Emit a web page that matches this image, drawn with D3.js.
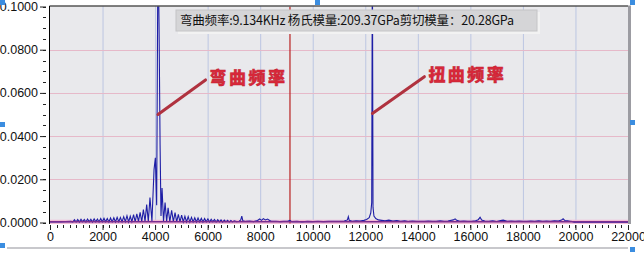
<!DOCTYPE html>
<html>
<head>
<meta charset="utf-8">
<script src="https://cdn.jsdelivr.net/npm/d3@7"></script>
<style>
  body { margin: 0; background: #fff; }
  svg { display: block; }
</style>
</head>
<body>
<div id="chart"></div>
<script>
// 频谱数据 [Hz, 幅值]
const leftLobes = [
  [0, 0.0003], [200, 0.0004], [400, 0.0003], [600, 0.0004], [800, 0.0005], [868, 0.0002],
  [930, 0.0013], [992, 0.0002], [1055, 0.0014], [1117, 0.0002], [1180, 0.0015], [1242, 0.0003],
  [1305, 0.0014], [1367, 0.0002], [1430, 0.0016], [1492, 0.0003], [1555, 0.0015], [1617, 0.0002],
  [1680, 0.0017], [1742, 0.0003], [1805, 0.0016], [1867, 0.0002], [1930, 0.0018], [1992, 0.0003],
  [2055, 0.0019], [2117, 0.0003], [2180, 0.0018], [2242, 0.0002], [2305, 0.0021], [2367, 0.0003],
  [2430, 0.0022], [2492, 0.0003], [2555, 0.0024], [2617, 0.0004], [2680, 0.0023], [2742, 0.0003],
  [2805, 0.0027], [2867, 0.0004], [2930, 0.0031], [2992, 0.0003], [3055, 0.0029], [3117, 0.0004],
  [3180, 0.0036], [3242, 0.0004], [3305, 0.0040], [3367, 0.0005], [3430, 0.0047], [3492, 0.0004],
  [3555, 0.0060], [3617, 0.0005], [3680, 0.0083], [3742, 0.0005], [3805, 0.0115], [3880, 0.0006]
];

const mainPeak = [
  [3960, 0.0245], [4010, 0.0300], [4060, 0.0080], [4110, 0.1300], [4150, 0.0920],
  [4190, 0.0360], [4225, 0.0030], [4265, 0.0160], [4320, 0.0006], [4380, 0.0092],
  [4440, 0.0005], [4495, 0.0068], [4560, 0.0004], [4630, 0.0056], [4695, 0.0004]
];

const rightLobes = [
  [4760, 0.0046], [4822, 0.0003], [4885, 0.0038], [4948, 0.0003], [5010, 0.0034], [5072, 0.0003],
  [5135, 0.0029], [5197, 0.0003], [5260, 0.0027], [5322, 0.0002], [5385, 0.0024], [5447, 0.0003],
  [5510, 0.0022], [5572, 0.0002], [5635, 0.0021], [5697, 0.0003], [5760, 0.0019], [5822, 0.0002],
  [5885, 0.0018], [5947, 0.0003], [6010, 0.0017], [6072, 0.0002], [6135, 0.0015], [6197, 0.0003],
  [6260, 0.0014], [6322, 0.0002], [6385, 0.0013], [6447, 0.0003], [6510, 0.0012], [6572, 0.0002],
  [6635, 0.0011], [6697, 0.0003], [6760, 0.0010], [6822, 0.0002], [6885, 0.0009], [6947, 0.0003],
  [7010, 0.0008]
];

const tail = [
  [7100, 0.0004], [7200, 0.0006], [7260, 0.0012], [7300, 0.0030], [7340, 0.0008], [7450, 0.0005],
  [7600, 0.0007], [7750, 0.0004], [7900, 0.0009], [7980, 0.0016], [8050, 0.0010], [8120, 0.0018],
  [8200, 0.0012], [8280, 0.0016], [8360, 0.0009], [8450, 0.0005], [8600, 0.0006], [8750, 0.0004],
  [8900, 0.0005], [9050, 0.0006], [9130, 0.0010], [9200, 0.0004], [9400, 0.0005], [9600, 0.0003],
  [9800, 0.0005], [10000, 0.0004], [10200, 0.0006], [10400, 0.0004], [10600, 0.0005], [10800, 0.0006],
  [11000, 0.0005], [11200, 0.0007], [11320, 0.0012], [11355, 0.0027], [11390, 0.0010], [11500, 0.0006],
  [11650, 0.0008], [11800, 0.0007], [11950, 0.0010], [12050, 0.0014], [12150, 0.0022], [12210, 0.0045],
  [12245, 0.0092], [12270, 0.1300], [12295, 0.0070], [12330, 0.0030], [12400, 0.0018], [12500, 0.0012],
  [12620, 0.0010], [12750, 0.0008], [12900, 0.0011], [13050, 0.0007], [13200, 0.0009], [13350, 0.0006],
  [13500, 0.0008], [13650, 0.0005], [13800, 0.0007], [13950, 0.0005], [14100, 0.0006], [14250, 0.0005],
  [14400, 0.0007], [14550, 0.0005], [14700, 0.0006], [14850, 0.0008], [15000, 0.0006], [15150, 0.0007],
  [15350, 0.0012], [15420, 0.0017], [15480, 0.0010], [15600, 0.0006], [15750, 0.0007], [15900, 0.0005],
  [16050, 0.0006], [16200, 0.0008], [16300, 0.0013], [16370, 0.0024], [16430, 0.0011], [16550, 0.0007],
  [16700, 0.0006], [16850, 0.0008], [17000, 0.0005], [17150, 0.0009], [17250, 0.0011], [17400, 0.0006],
  [17550, 0.0007], [17700, 0.0005], [17850, 0.0007], [18000, 0.0006], [18150, 0.0005], [18300, 0.0007],
  [18450, 0.0006], [18600, 0.0008], [18750, 0.0006], [18900, 0.0007], [19050, 0.0006], [19200, 0.0008],
  [19350, 0.0007], [19470, 0.0011], [19530, 0.0017], [19600, 0.0009], [19700, 0.0008], [19800, 0.0006],
  [19900, 0.0004], [19950, 0.0001], [22000, 0.0001]
];

// 底噪带 / 基线
const floorBand = [[0, 0.0013], [22000, 0.0013]];
const baseLine = [[0, 0.0003], [22000, 0.0003]];

const bendFreq = 9134;
const xTickValues = [0, 2000, 4000, 6000, 8000, 10000, 12000, 14000, 16000, 18000, 20000, 22000];
const yTickValues = [0, 0.02, 0.04, 0.06, 0.08, 0.1];
const legendText = '弯曲频率:9.134KHz 杨氏模量:209.37GPa剪切模量：20.28GPa';
const notes = [
  {text: '弯曲频率', from: [4110, 0.0500], to: [5920, 0.0660]},
  {text: '扭曲频率', from: [12270, 0.0505], to: [14250, 0.0675]}
];

const spectrum = leftLobes.concat(mainPeak, rightLobes, tail);

const W = 644, H = 253;
const plot = {left: 50, right: 628, top: 6.5, bottom: 222.5};

const svg = d3.select('#chart').append('svg')
  .attr('width', W)
  .attr('height', H);

const x = d3.scaleLinear().domain([0, 22000]).range([plot.left, plot.right]);
const y = d3.scaleLinear().domain([0, 0.1]).range([plot.bottom, plot.top]);

// plot background
svg.append('rect')
  .attr('x', plot.left).attr('y', plot.top)
  .attr('width', plot.right - plot.left).attr('height', plot.bottom - plot.top + 1.5)
  .attr('fill', '#e9e9ec');

svg.append('clipPath').attr('id', 'clip')
  .append('rect')
  .attr('x', plot.left).attr('y', plot.top)
  .attr('width', plot.right - plot.left).attr('height', plot.bottom - plot.top + 1.5);

// grid
svg.append('g').selectAll('line')
  .data(xTickValues.slice(1, -1))
  .join('line')
  .attr('x1', d => x(d) + 0.5).attr('x2', d => x(d) + 0.5)
  .attr('y1', plot.top).attr('y2', plot.bottom + 1)
  .attr('stroke', '#bcc6e2').attr('stroke-width', 1);

svg.append('g').selectAll('line')
  .data(yTickValues.slice(1, -1))
  .join('line')
  .attr('x1', plot.left).attr('x2', plot.right)
  .attr('y1', d => Math.round(y(d)) + 0.5).attr('y2', d => Math.round(y(d)) + 0.5)
  .attr('stroke', '#e6b9c9').attr('stroke-width', 1);

const g = svg.append('g').attr('clip-path', 'url(#clip)');

g.append('path')
  .datum(floorBand)
  .attr('d', d3.area().x(d => x(d[0])).y0(plot.bottom + 1.5).y1(d => y(d[1])))
  .attr('fill', '#f3bcd6');

// bending frequency marker
g.append('line')
  .attr('x1', x(bendFreq)).attr('x2', x(bendFreq))
  .attr('y1', plot.top).attr('y2', plot.bottom + 1)
  .attr('stroke', '#b82020').attr('stroke-width', 1.2);

g.append('path')
  .datum(spectrum)
  .attr('d', d3.line().x(d => x(d[0])).y(d => y(d[1])))
  .attr('fill', 'none')
  .attr('stroke', '#1e1ea6')
  .attr('stroke-width', 1.1);

g.append('path')
  .datum(baseLine)
  .attr('d', d3.line().x(d => x(d[0])).y(d => y(d[1])))
  .attr('fill', 'none')
  .attr('stroke', '#7b2c8e')
  .attr('stroke-width', 1.5);

// frame
svg.append('line')
  .attr('x1', plot.left - 0.5).attr('x2', plot.right)
  .attr('y1', plot.top - 0.5).attr('y2', plot.top - 0.5)
  .attr('stroke', '#000');
svg.append('line')
  .attr('x1', plot.left - 0.5).attr('x2', plot.left - 0.5)
  .attr('y1', plot.top - 0.5).attr('y2', plot.bottom + 1.5)
  .attr('stroke', '#000');
svg.append('rect')
  .attr('x', plot.right).attr('y', plot.top - 1)
  .attr('width', 3).attr('height', plot.bottom - plot.top + 2.5)
  .attr('fill', '#9c9ca2');

// axes
const axisFont = '"Liberation Sans", Arial, sans-serif';

const yAxis = d3.axisLeft(y)
  .tickValues(yTickValues)
  .tickSize(6)
  .tickPadding(2)
  .tickFormat(d3.format('.4f'));
const yAxisGroup = svg.append('g')
  .attr('transform', 'translate(46,0)')
  .call(yAxis);
yAxisGroup.select('.domain').remove();
yAxisGroup.selectAll('text').attr('font-family', axisFont).attr('font-size', 12.5).attr('fill', '#111');
yAxisGroup.selectAll('line').attr('stroke', '#222');

svg.append('g').selectAll('line')
  .data(d3.range(0, 0.1001, 0.005))
  .join('line')
  .attr('x1', 43).attr('x2', 46)
  .attr('y1', d => Math.round(y(d)) + 0.5).attr('y2', d => Math.round(y(d)) + 0.5)
  .attr('stroke', '#222');

const xAxis = d3.axisBottom(x)
  .tickValues(xTickValues)
  .tickSize(5)
  .tickPadding(2)
  .tickFormat(d3.format('d'));
const xAxisGroup = svg.append('g')
  .attr('transform', 'translate(0,225)')
  .call(xAxis);
xAxisGroup.select('.domain').remove();
xAxisGroup.selectAll('text').attr('font-family', axisFont).attr('font-size', 12.5).attr('fill', '#111');
xAxisGroup.selectAll('line').attr('stroke', '#222');

svg.append('g').selectAll('line')
  .data(d3.range(0, 22001, 250))
  .join('line')
  .attr('x1', d => Math.round(x(d)) + 0.5).attr('x2', d => Math.round(x(d)) + 0.5)
  .attr('y1', 225).attr('y2', 228)
  .attr('stroke', '#222');

// legend box
const legend = svg.append('g');
legend.append('rect')
  .attr('x', 178).attr('y', 12).attr('width', 362).attr('height', 22)
  .attr('fill', '#f2f2f2');
legend.append('rect')
  .attr('x', 176).attr('y', 10).attr('width', 361).attr('height', 21)
  .attr('fill', '#d5d5d7')
  .attr('stroke', '#c4c4c6');
legend.append('text')
  .attr('x', 180).attr('y', 25)
  .attr('font-family', '"Noto Sans CJK SC", sans-serif')
  .attr('font-size', 12.5)
  .attr('fill', '#111')
  .attr('textLength', 334)
  .text(legendText);

// annotations
notes.forEach(n => {
  svg.append('line')
    .attr('x1', x(n.from[0])).attr('y1', y(n.from[1]))
    .attr('x2', x(n.to[0])).attr('y2', y(n.to[1]))
    .attr('stroke', '#b0323f')
    .attr('stroke-width', 3)
    .attr('stroke-linecap', 'round');
  svg.append('text')
    .attr('x', x(n.to[0]) + 4).attr('y', y(n.to[1]) + 4)
    .attr('font-family', '"Noto Sans CJK SC", sans-serif')
    .attr('font-weight', 900)
    .attr('font-size', 17)
    .attr('letter-spacing', 2.5)
    .attr('fill', '#d8283a')
    .attr('stroke', '#c0202e')
    .attr('stroke-width', 0.4)
    .text(n.text);
});

// bottom frame line and selection handles
svg.append('rect')
  .attr('x', 7).attr('y', 247).attr('width', 621).attr('height', 2)
  .attr('fill', '#c8c8cc');

const handles = [[0, 0], [0, 122], [0, 243], [315, 0], [630, 0], [630, 120], [630, 247]];
svg.append('g').selectAll('rect')
  .data(handles)
  .join('rect')
  .attr('x', d => d[0]).attr('y', d => d[1])
  .attr('width', 5).attr('height', 5)
  .attr('fill', '#3b8de0');
</script>
</body>
</html>
